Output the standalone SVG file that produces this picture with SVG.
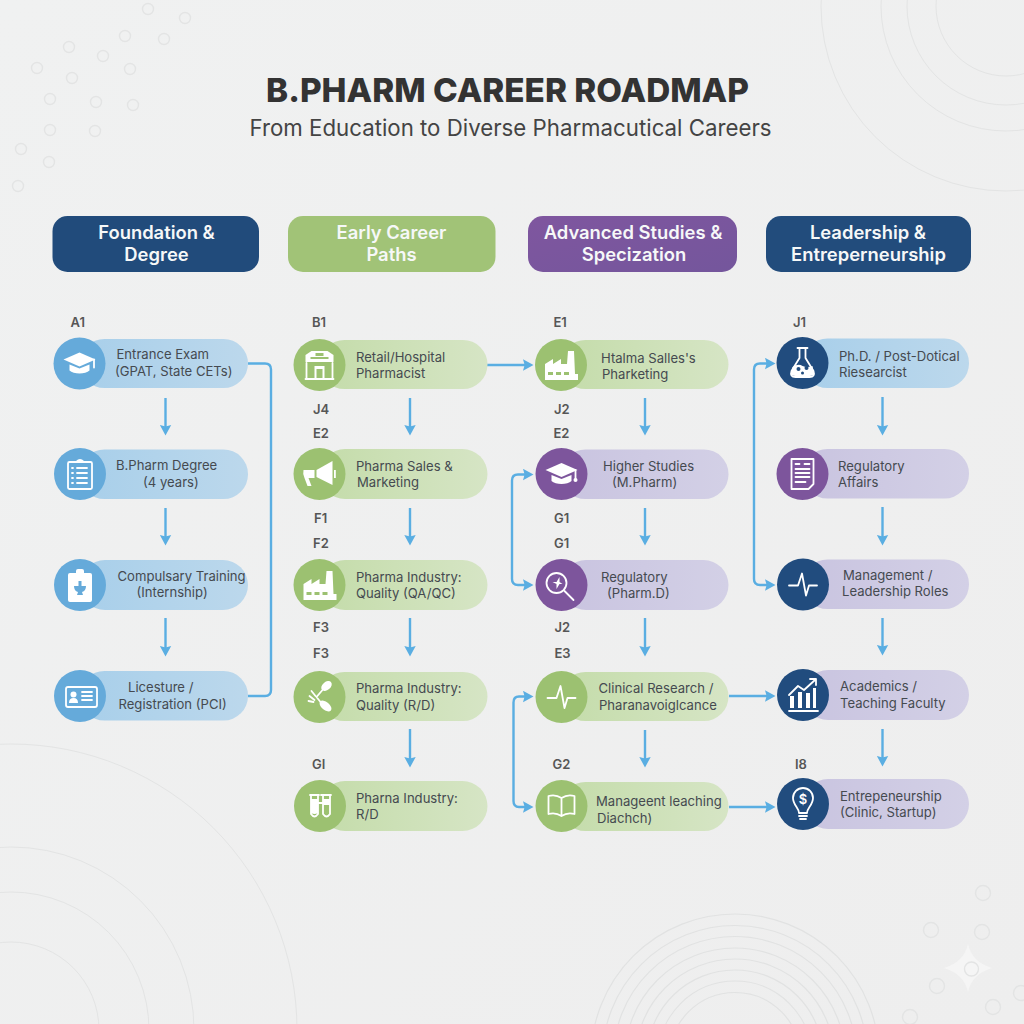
<svg xmlns="http://www.w3.org/2000/svg" xmlns:xlink="http://www.w3.org/1999/xlink" width="1024" height="1024" viewBox="0 0 1024 1024">
<style>
text{font-family:"Inter","Liberation Sans",sans-serif}
.title{font-size:33.300px;font-weight:800;fill:#333;text-anchor:middle}
.sub{font-size:22.250px;font-weight:400;fill:#444;text-anchor:middle}
.hd{font-size:18.400px;font-weight:600;fill:#f6f8f8;text-anchor:middle}
.t{font-size:13.100px;fill:#454a50}
.l{font-size:13px;font-weight:600;fill:#565656}
.ring{fill:none;stroke:#e3e4e4;stroke-width:1}
.ring2{fill:none;stroke:#e1e2e2;stroke-width:1.200}
.dot{fill:none;stroke:#e3e4e4;stroke-width:1.400}
.c{fill:none;stroke:#5aaee2;stroke-width:2.400}
.i{fill:none;stroke:#fff;stroke-width:1.800;stroke-linecap:round;stroke-linejoin:round}
.f{fill:#fff}
</style>
<defs>
<linearGradient id="bg" x1="0" y1="0" x2="1" y2="1"><stop offset="0" stop-color="#f0f1f1"/><stop offset="1" stop-color="#eeeeee"/></linearGradient>
<linearGradient id="pb" x1="0" x2="1" y1="0" y2="0"><stop offset="0" stop-color="#a8cfea"/><stop offset="1" stop-color="#bcd8ec"/></linearGradient>
<linearGradient id="pg" x1="0" x2="1" y1="0" y2="0"><stop offset="0" stop-color="#c4dcaa"/><stop offset="1" stop-color="#d6e5c5"/></linearGradient>
<linearGradient id="pp" x1="0" x2="1" y1="0" y2="0"><stop offset="0" stop-color="#c9c4e0"/><stop offset="1" stop-color="#d3d0e6"/></linearGradient>
<linearGradient id="hp" x1="0" x2="1" y1="0" y2="1"><stop offset="0" stop-color="#7f569f"/><stop offset="1" stop-color="#74569c"/></linearGradient>
<marker id="ah" markerUnits="userSpaceOnUse" markerWidth="11" markerHeight="12" refX="2" refY="6" orient="auto-start-reverse"><path d="M0,0.300 L10.500,6 L0,11.700 L1.600,6Z" fill="#5aaee2"/></marker>
<g id="cap"><path class="f" d="M-16,-4 L0,-11 L16,-4 L0,3Z"/><path class="f" d="M-10,1 L0,5 L10,1 V7 C6,11 -6,11 -10,7Z"/></g>
<g id="pulse"><path class="i" d="M-14,1 H-5 L-1,-11 L3,11 L6,1 H14"/></g>
<g id="factory"><path class="f" d="M-16,15 V-1 L-8,-6 V-1 L0,-6 V-1 L6,-1 L7,-14 H13 L14,9 H17 V15Z"/><path fill="#9cc171" d="M-13,7 h5 v3 h-5z M-5,7 h5 v3 h-5z M3,7 h5 v3 h-5z"/></g>
</defs>
<rect width="1024" height="1024" fill="url(#bg)"/>
<g id="decor">
<circle class="ring" cx="1006" cy="6" r="185"/><circle class="ring" cx="1006" cy="6" r="125"/><circle class="ring" cx="1006" cy="6" r="99"/><circle class="ring" cx="1006" cy="6" r="70"/>
<circle class="ring" cx="11" cy="1030" r="286"/><circle class="ring" cx="11" cy="1030" r="183"/><circle class="ring" cx="11" cy="1030" r="138"/><circle class="ring" cx="11" cy="1030" r="88"/>
<circle class="ring2" cx="735" cy="1058" r="144"/><circle class="ring2" cx="735" cy="1058" r="132.500"/><circle class="ring2" cx="735" cy="1058" r="121.500"/><circle class="ring2" cx="735" cy="1058" r="110"/><circle class="ring2" cx="735" cy="1058" r="99"/><circle class="ring2" cx="735" cy="1058" r="88"/><circle class="ring2" cx="735" cy="1058" r="77"/><circle class="ring2" cx="735" cy="1058" r="65.500"/>
<g class="dot"><circle cx="148" cy="9" r="5.500"/><circle cx="185" cy="18" r="5.500"/><circle cx="125" cy="36" r="5.500"/><circle cx="164" cy="39" r="5.500"/><circle cx="69" cy="47" r="5.500"/><circle cx="103" cy="56" r="5.500"/><circle cx="130" cy="69" r="5.500"/><circle cx="37" cy="68" r="5.500"/><circle cx="72" cy="78" r="5.500"/><circle cx="50" cy="99" r="5.500"/><circle cx="96" cy="102" r="5.500"/><circle cx="133" cy="105" r="5.500"/><circle cx="50" cy="130" r="5.500"/><circle cx="95" cy="131" r="5.500"/><circle cx="21" cy="149" r="5.500"/><circle cx="49" cy="162" r="5.500"/><circle cx="18" cy="186" r="5.500"/>
<circle cx="983" cy="893" r="7.500"/><circle cx="931" cy="930" r="7.500"/><circle cx="982" cy="932" r="7.500"/><circle cx="937" cy="986" r="7.500"/><circle cx="993" cy="1007" r="7.500"/><circle cx="1021" cy="993" r="7.500"/><circle cx="910" cy="1017" r="7.500"/></g>
<path d="M968,944 Q972,962 992,968 Q972,974 968,992 Q964,974 944,968 Q964,962 968,944Z" fill="#f5f5f5"/>
<circle class="dot" cx="971.500" cy="969" r="7"/>
</g>
<g id="heading">
<text class="title" x="507.500" y="102">B.PHARM CAREER ROADMAP</text>
<text class="sub" x="510.500" y="135.500">From Education to Diverse Pharmacutical Careers</text>
</g>
<g id="col-foundation"><rect x="52.500" y="216" width="206.500" height="56" rx="15" fill="#214b7b"/><text class="hd" x="156.500" y="238.500">Foundation &amp;</text><text class="hd" x="156.500" y="260.500">Degree</text></g>
<g id="col-early"><rect x="288" y="216" width="207.500" height="56" rx="15" fill="#a1c377"/><text class="hd" x="391.500" y="238.500">Early Career</text><text class="hd" x="391.500" y="260.500">Paths</text></g>
<g id="col-advanced"><rect x="528" y="216" width="209" height="56" rx="15" fill="url(#hp)"/><text class="hd" x="633" y="238.500">Advanced Studies &amp;</text><text class="hd" x="634" y="260.500">Specization</text></g>
<g id="col-leadership"><rect x="766" y="216" width="205" height="56" rx="15" fill="#224c7c"/><text class="hd" x="868" y="238.500">Leadership &amp;</text><text class="hd" x="868.500" y="260.500">Entreperneurship</text></g>

<g id="connectors">
<g class="c">
<path marker-end="url(#ah)" d="M165.500,398V427"/><path marker-end="url(#ah)" d="M165.500,508V537"/><path marker-end="url(#ah)" d="M165.500,618V648"/>
<path marker-end="url(#ah)" d="M410,398V427"/><path marker-end="url(#ah)" d="M410,508V537"/><path marker-end="url(#ah)" d="M410,618V648"/><path marker-end="url(#ah)" d="M410,729V759"/>
<path marker-end="url(#ah)" d="M645,398V427"/><path marker-end="url(#ah)" d="M645,508V537"/><path marker-end="url(#ah)" d="M645,618V648"/><path marker-end="url(#ah)" d="M645,730V759"/>
<path marker-end="url(#ah)" d="M882.500,397V427"/><path marker-end="url(#ah)" d="M882.500,507V537"/><path marker-end="url(#ah)" d="M882.500,618V647"/><path marker-end="url(#ah)" d="M882.500,729V758"/>
<path d="M248,363.500H265Q271,363.500 271,369.500V690Q271,696 265,696H248"/>
<path marker-end="url(#ah)" d="M487,365H525"/>
<path marker-start="url(#ah)" marker-end="url(#ah)" d="M525,474.500H518Q512,474.500 512,480.500V579Q512,585 518,585H525"/>
<path marker-start="url(#ah)" marker-end="url(#ah)" d="M767,363.500H760Q754,363.500 754,369.500V579Q754,585 760,585H767"/>
<path marker-start="url(#ah)" marker-end="url(#ah)" d="M525,696.500H519Q513.500,696.500 513.500,702.500V801Q513.500,807 519,807H525"/>
<path marker-end="url(#ah)" d="M729,696H767"/>
<path marker-end="url(#ah)" d="M729,807H767"/>
</g>
</g>

<g id="A1"><text class="l" x="70.500" y="327">A1</text><rect x="80" y="339" width="168" height="49" rx="24.500" fill="url(#pb)"/><circle cx="79.500" cy="363.500" r="26" fill="#65aada"/><g transform="translate(79.500,363.500)"><use xlink:href="#cap"/><path class="i" d="M14.500,-4V4"/></g><text class="t" x="116.500" y="359">Entrance Exam</text><text class="t" x="115" y="376">(GPAT, State CETs)</text></g>
<g id="A2"><rect x="80" y="449.500" width="168" height="49.500" rx="24.500" fill="url(#pb)"/><circle cx="80" cy="474" r="26" fill="#65aada"/><g transform="translate(80,474)"><rect class="i" x="-12" y="-12" width="24" height="27" rx="1.500"/><path class="f" d="M-4,-11 V-13 Q0,-17 4,-13 V-11Z"/><path class="i" stroke-width="1.300" d="M-8,-6H-7 M-3,-6H7 M-8,-1H-7 M-3,-1H7 M-8,4H-7 M-3,4H7 M-8,9H-7 M-3,9H7"/></g><text class="t" x="116" y="470">B.Pharm Degree</text><text class="t" x="143" y="487">(4 years)</text></g>
<g id="A3"><rect x="80" y="560" width="168" height="50" rx="25" fill="url(#pb)"/><circle cx="80" cy="585" r="26" fill="#65aada"/><g transform="translate(80,585)"><rect class="f" x="-12" y="-12" width="24" height="29" rx="2"/><rect class="f" x="-4" y="-16" width="8" height="6" rx="2"/><path fill="#65aada" d="M-1.500,-4H1.500V1H6Q6,6 2,7L3,10H-3L-2,7Q-6,6 -6,1H-1.500Z"/></g><text class="t" x="117.500" y="581">Compulsary Training</text><text class="t" x="136.500" y="597">(Internship)</text></g>
<g id="A4"><rect x="80" y="671" width="168" height="49.500" rx="24.500" fill="url(#pb)"/><circle cx="80" cy="696" r="26" fill="#65aada"/><g transform="translate(81,697)"><rect class="i" x="-15" y="-10" width="31" height="20" rx="2"/><circle class="f" cx="-7.500" cy="-2.500" r="3"/><path class="f" d="M-12,6Q-12,1 -7.500,1Q-3,1 -3,6Z"/><path class="i" stroke-width="1.300" d="M1,-5H11 M1,-1H11 M1,3H11"/></g><text class="t" x="128" y="692">Licesture /</text><text class="t" x="118.500" y="709">Registration (PCI)</text></g>

<g id="B1"><text class="l" x="312" y="327">B1</text><rect x="320" y="340" width="167.500" height="49" rx="24.500" fill="url(#pg)"/><circle cx="319.500" cy="365" r="26" fill="#9cc171"/><g transform="translate(319.500,365)"><path class="f" d="M-14,-3 V-10 L-8,-14 H8 L14,-10 V-3Z"/><path fill="#9cc171" d="M-4,-12 h8 v3 h-8z M-9,-8 h18 v2 h-18z"/><path class="i" d="M-13,-2V14H13V-2 M-14,14H14"/><path class="f" d="M-5,14 V1 H5 V14 H3 V4 H-3 V14Z"/></g><text class="t" x="356" y="362">Retail/Hospital</text><text class="t" x="356" y="378">Pharmacist</text></g>
<g id="J4-E2"><text class="l" x="313" y="413.500">J4</text><text class="l" x="313" y="438">E2</text><rect x="320" y="449" width="167.500" height="50" rx="25" fill="url(#pg)"/><circle cx="319.500" cy="474" r="26" fill="#9cc171"/><g transform="translate(319.500,474)"><path class="f" d="M-3,-4 L13,-13 V11 L-3,3Z"/><path class="f" d="M-16,-4 H-5 V4 H-11 L-8,12 H-12 L-15,4 Q-17,0 -16,-4Z"/><rect class="f" x="14.500" y="-4" width="1.800" height="8"/></g><text class="t" x="356" y="471">Pharma Sales &amp;</text><text class="t" x="357" y="487">Marketing</text></g>
<g id="F1-F2"><text class="l" x="314" y="523">F1</text><text class="l" x="313" y="548">F2</text><rect x="320" y="560" width="167.500" height="50" rx="25" fill="url(#pg)"/><circle cx="319.500" cy="585" r="26" fill="#9cc171"/><use xlink:href="#factory" transform="translate(319.500,585)"/><text class="t" x="356" y="582">Pharma Industry:</text><text class="t" x="356" y="598">Quality (QA/QC)</text></g>
<g id="F3"><text class="l" x="313" y="632">F3</text><text class="l" x="313" y="658">F3</text><rect x="320" y="672" width="167.500" height="49" rx="24.500" fill="url(#pg)"/><circle cx="319.500" cy="697" r="26" fill="#9cc171"/><g transform="translate(319.500,697)"><ellipse class="f" cx="7" cy="-11" rx="6" ry="4" transform="rotate(-40 7 -11)"/><ellipse class="f" cx="6" cy="9" rx="7" ry="4" transform="rotate(40 6 9)"/><path class="i" d="M3,-7L-3,0L1,5 M-10,-1L-5,3 M-8,-6L-4,-1 M-11,4L-6,5"/></g><text class="t" x="356" y="693">Pharma Industry:</text><text class="t" x="356" y="710">Quality (R/D)</text></g>
<g id="GI"><text class="l" x="312" y="769">GI</text><rect x="320" y="781" width="167.500" height="50" rx="25" fill="url(#pg)"/><circle cx="320" cy="806" r="26" fill="#9cc171"/><g transform="translate(320,806)"><path class="i" d="M-10,-11H-1 M-9,-11V8Q-5.500,13 -2,8V-11 M1,-11H11 M3,-11V8Q6.500,13 10,8V-11 M-2,-3H3"/><path class="f" d="M-9,-7H-2V7Q-5.500,9 -9,7Z M3,-7H10V-1H3Z"/></g><text class="t" x="356" y="803">Pharna Industry:</text><text class="t" x="356" y="819">R/D</text></g>

<g id="E1"><text class="l" x="553.500" y="327">E1</text><rect x="561" y="340" width="167.500" height="49" rx="24.500" fill="url(#pg)"/><circle cx="561" cy="365" r="26" fill="#9cc171"/><use xlink:href="#factory" transform="translate(561,365)"/><text class="t" x="601" y="362.500">Htalma Salles's</text><text class="t" x="602" y="379">Pharketing</text></g>
<g id="J2-E2"><text class="l" x="554" y="413.500">J2</text><text class="l" x="553.500" y="438">E2</text><rect x="561" y="449.500" width="167.500" height="49.500" rx="24.500" fill="url(#pp)"/><circle cx="561.500" cy="474" r="26" fill="#7d559c"/><g transform="translate(561.500,474)"><use xlink:href="#cap"/><path class="i" d="M14,-4V5"/><circle class="f" cx="14" cy="6" r="2"/></g><text class="t" x="603" y="471">Higher Studies</text><text class="t" x="612" y="487">(M.Pharm)</text></g>
<g id="G1-G1"><text class="l" x="554" y="523">G1</text><text class="l" x="554" y="548">G1</text><rect x="561" y="560" width="167.500" height="50" rx="25" fill="url(#pp)"/><circle cx="561.500" cy="585" r="26" fill="#7d559c"/><g transform="translate(561.500,585)"><circle class="i" stroke-width="2.200" cx="-5" cy="-2" r="10"/><path class="i" stroke-width="3.500" d="M3,6L12,15"/><path class="f" d="M-2,-8L-5,-3H-9L-5,-1V4L-2,-1H1L-2,-3Z"/></g><text class="t" x="601" y="582">Regulatory</text><text class="t" x="607" y="598">(Pharm.D)</text></g>
<g id="J2-E3"><text class="l" x="554.500" y="632">J2</text><text class="l" x="554.500" y="658">E3</text><rect x="561" y="672" width="167.500" height="49" rx="24.500" fill="url(#pg)"/><circle cx="561.500" cy="697" r="26" fill="#9cc171"/><use xlink:href="#pulse" transform="translate(561.500,697)"/><text class="t" x="598.500" y="693">Clinical Research /</text><text class="t" x="599" y="710">Pharanavoiglcance</text></g>
<g id="G2"><text class="l" x="552.500" y="769">G2</text><rect x="561" y="782" width="167.500" height="49" rx="24.500" fill="url(#pg)"/><circle cx="561.500" cy="806" r="26" fill="#9cc171"/><g transform="translate(561.500,806)"><path class="i" d="M0,-8Q-6,-12 -13,-10V8Q-6,6 0,10Q6,6 13,8V-10Q6,-12 0,-8ZM0,-8V10"/></g><text class="t" x="596" y="806">Manageent leaching</text><text class="t" x="597" y="823">Diachch)</text></g>

<g id="J1"><text class="l" x="793" y="327">J1</text><rect x="803" y="338.500" width="166" height="49.500" rx="24.500" fill="url(#pb)"/><circle cx="802.500" cy="363" r="26" fill="#214c7e"/><g transform="translate(802.500,363)"><path class="i" d="M-5,-15H5 M-3,-15V-5L-11,8Q-13,14 -7,14H7Q13,14 11,8L3,-5V-15"/><path class="f" d="M-10,4Q-4,0 0,3Q5,5 10,3L11,9Q12,13 7,13H-7Q-12,13 -11,9Z"/><circle cx="-4" cy="6" r="2" fill="#214c7e"/><circle cx="4" cy="5" r="2" fill="#214c7e"/><circle cx="0" cy="10" r="1.500" fill="#214c7e"/></g><text class="t" x="839" y="360.500">Ph.D. / Post-Dotical</text><text class="t" x="839" y="376.500">Riesearcist</text></g>
<g id="RA"><rect x="803" y="449" width="166" height="49.500" rx="24.500" fill="url(#pp)"/><circle cx="802.500" cy="474" r="26" fill="#7d559c"/><g transform="translate(802.500,474)"><path class="i" d="M-11,-15H11V10L6,15H-11Z"/><path class="i" stroke-width="1.400" d="M-7,-10H-3 M2,-10H7 M-7,-5H7 M-7,-1H7 M-7,3H7 M-7,8H3"/></g><text class="t" x="838" y="471">Regulatory</text><text class="t" x="838" y="487">Affairs</text></g>
<g id="ML"><rect x="803" y="559.500" width="166" height="49.500" rx="24.500" fill="url(#pp)"/><circle cx="803" cy="584.500" r="26" fill="#214c7e"/><use xlink:href="#pulse" transform="translate(803,584.500)"/><text class="t" x="843" y="580">Management /</text><text class="t" x="842" y="596">Leadership Roles</text></g>
<g id="AT"><rect x="803" y="670" width="166" height="50" rx="25" fill="url(#pp)"/><circle cx="803" cy="695" r="26" fill="#214c7e"/><g transform="translate(803,695)"><path class="f" d="M-13,13V1H-9V13Z M-5,13V-3H-1V13Z M3,13V-2H7V13Z M10,13V-7H13V13Z"/><path class="i" d="M-14,0L-5,-9L1,-5L12,-15 M7,-16L13,-16L13,-10 M-14,16H15"/></g><text class="t" x="840" y="691">Academics /</text><text class="t" x="840" y="708">Teaching Faculty</text></g>
<g id="I8"><text class="l" x="795" y="769">I8</text><rect x="803" y="779" width="166" height="50" rx="25" fill="url(#pp)"/><circle cx="803" cy="804" r="26" fill="#214c7e"/><g transform="translate(803,804)"><path class="i" d="M-4,9C-4,4 -10,1 -10,-6A10,10 0 0 1 10,-6C10,1 4,4 4,9Z"/><path class="i" d="M-4,12H4 M-3,15H3"/><text x="0" y="-0.500" text-anchor="middle" font-size="13" font-weight="600" fill="#fff">$</text></g><text class="t" x="840" y="801">Entrepeneurship</text><text class="t" x="840" y="817">(Clinic, Startup)</text></g>
</svg>
